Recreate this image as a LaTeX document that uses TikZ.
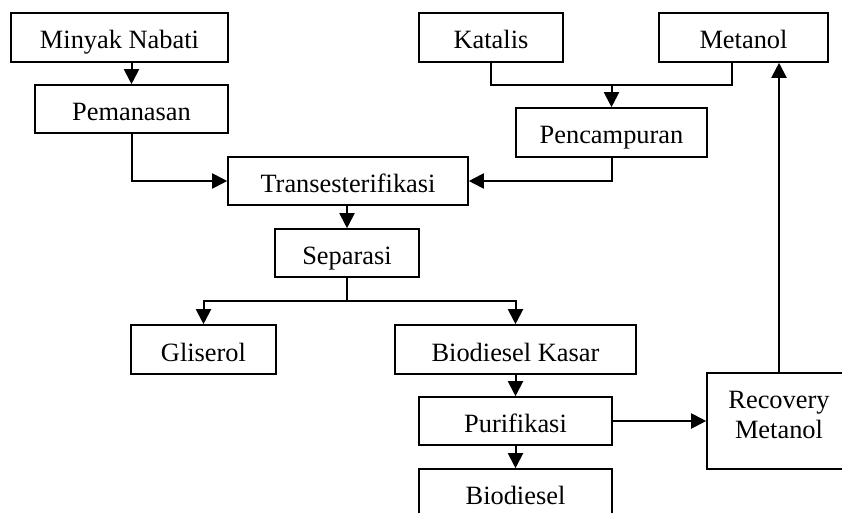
\documentclass[tikz,border=0pt]{standalone}
\usepackage{fontspec}
\setmainfont{Liberation Serif}
\usetikzlibrary{arrows.meta}
\begin{document}
\begin{tikzpicture}[x=1pt,y=-1pt,
 box/.style={draw,line width=1.6pt,inner sep=0pt,text height=23pt,text depth=0pt,font=\fontsize{26.4}{30}\selectfont},
 conn/.style={line width=2pt},
 arr/.style={conn,-{Triangle[length=15pt,width=15pt]}}]
\useasboundingbox (0,0) rectangle (842,513);
\fill[white] (0,0) rectangle (842,513);
\clip (0,0) rectangle (842,513);
\node[box,minimum width=217pt,minimum height=49pt] (minyak) at (119.5,37.5) {Minyak Nabati};
\node[box,minimum width=193pt,minimum height=48pt] (peman) at (131.5,109) {Pemanasan};
\node[box,minimum width=240pt,minimum height=48pt] (trans) at (348,181) {Transesterifikasi};
\node[box,minimum width=144pt,minimum height=49pt] (katalis) at (491,37.5) {Katalis};
\node[box,minimum width=169pt,minimum height=49pt] (metanol) at (743.5,37.5) {Metanol};
\node[box,minimum width=191pt,minimum height=49pt] (pencampuran) at (611.5,132.5) {Pencampuran};
\node[box,minimum width=144pt,minimum height=48pt] (separasi) at (347,253) {Separasi};
\node[box,minimum width=145pt,minimum height=49pt] (gliserol) at (203.5,349.5) {Gliserol};
\node[box,minimum width=241pt,minimum height=49pt] (kasar) at (515.5,349.5) {Biodiesel Kasar};
\node[box,minimum width=193pt,minimum height=48pt] (purifikasi) at (515.5,421) {Purifikasi};
\node[box,minimum width=193pt,minimum height=48pt] (biodiesel) at (515.5,493) {Biodiesel};
\node[draw,line width=1.6pt,inner sep=0pt,minimum width=144pt,minimum height=96pt] (recovery) at (779,421) {};
\node[inner sep=0pt,align=center,font=\fontsize{26.4}{30}\selectfont] (rectext) at (779,415.25) {Recovery\\Metanol};
% connectors
\draw[arr] (minyak.south -| peman.south) -- (peman.north);
\draw[arr] (peman.south) |- (trans.west);
\coordinate (mjoin) at (732,85);
\draw[conn] (katalis.south) |- (mjoin) -- (mjoin |- metanol.south);
\draw[arr] (pencampuran.north |- mjoin) -- (pencampuran.north);
\draw[arr] (pencampuran.south) |- (trans.east);
\draw[arr] (trans.south -| separasi.north) -- (separasi.north);
\coordinate (sjoin) at (347,301);
\draw[conn] (separasi.south) -- (sjoin);
\draw[arr] (sjoin) -| (gliserol.north);
\draw[arr] (sjoin) -| (kasar.north);
\draw[arr] (kasar.south) -- (purifikasi.north);
\draw[arr] (purifikasi.south) -- (biodiesel.north);
\draw[arr] (purifikasi.east) -- (recovery.west);
\draw[arr] (recovery.north) -- (recovery.north |- metanol.south);
\end{tikzpicture}
\end{document}
